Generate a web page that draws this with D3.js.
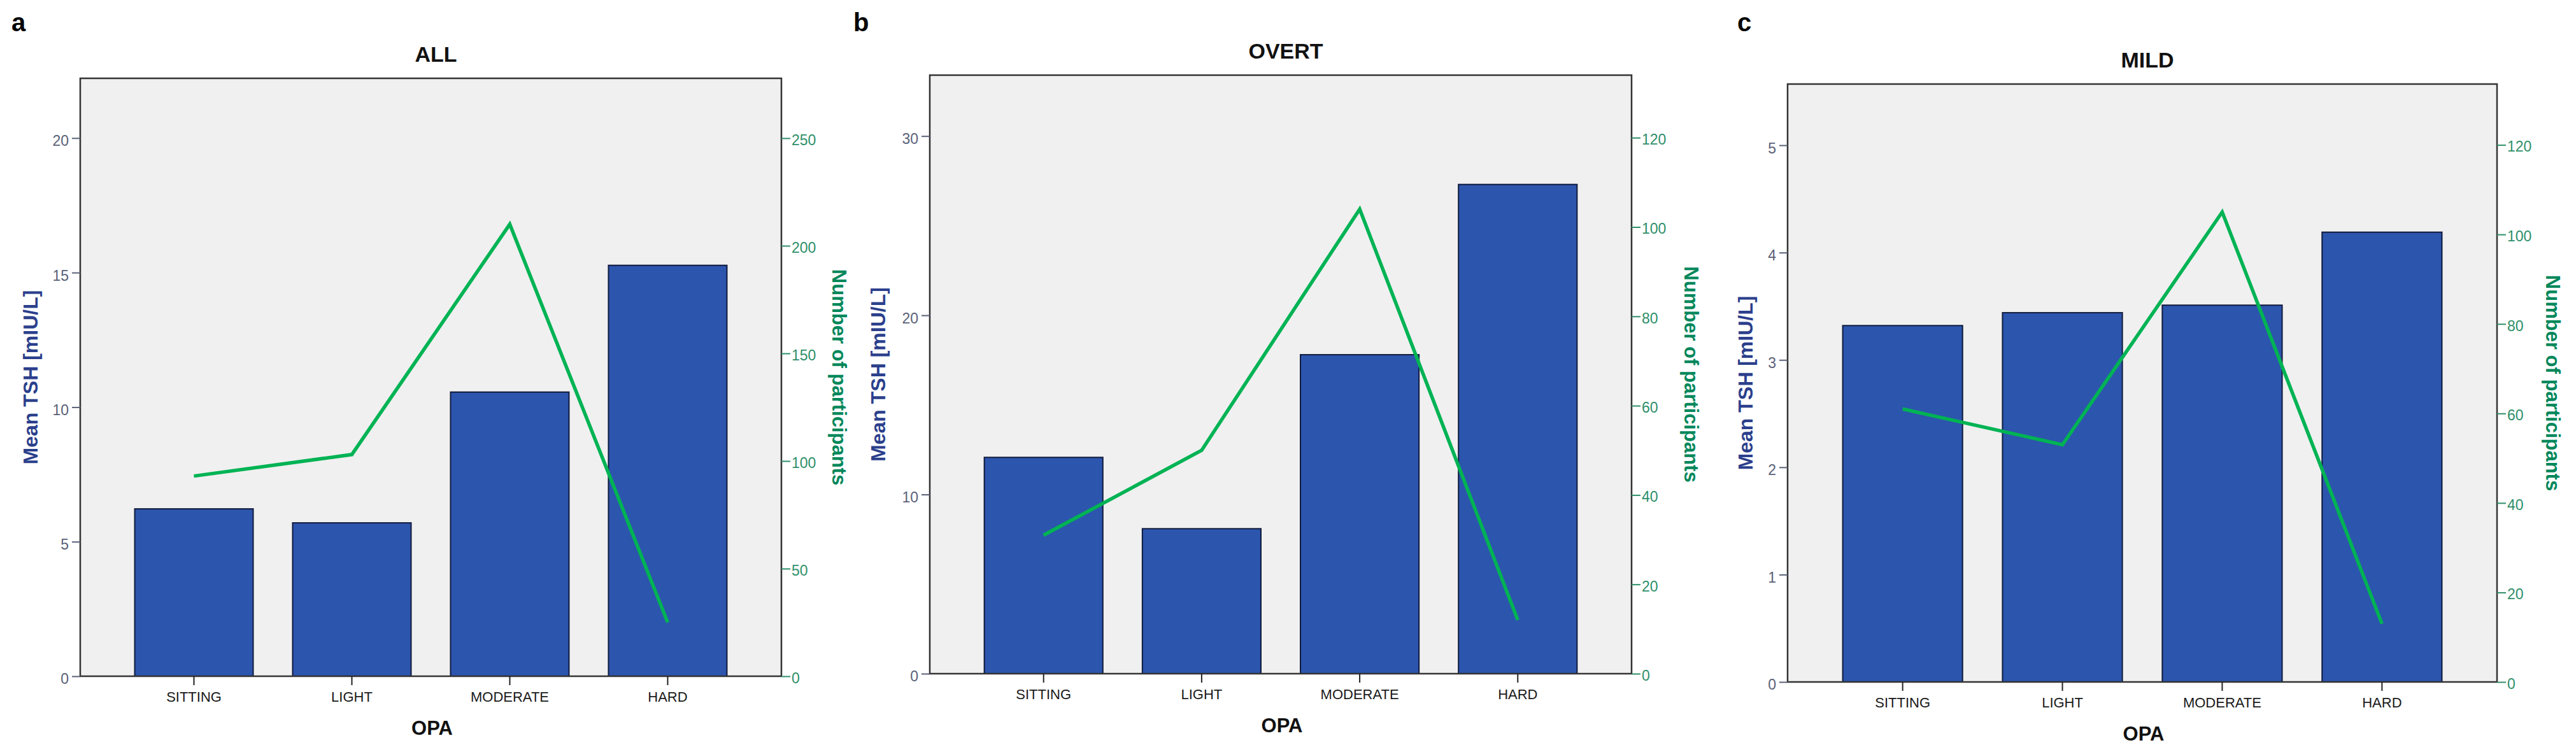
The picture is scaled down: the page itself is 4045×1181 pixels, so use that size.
<!DOCTYPE html>
<html>
<head>
<meta charset="utf-8">
<script src="https://cdn.jsdelivr.net/npm/d3@7"></script>
<style>
  body { margin: 0; background: #fff; }
  text { font-family: "Liberation Sans", Arial, sans-serif; }
</style>
</head>
<body>
<div id="chart"></div>
<script>
//////////////////////
//  main constants  //
//////////////////////
const WIDTH = 4045;
const HEIGHT = 1181;

//////////////
//  data    //
//////////////
const categories = ["SITTING", "LIGHT", "MODERATE", "HARD"];
const panelLetters = ["a", "b", "c"];
const panelTitles = ["ALL", "OVERT", "MILD"];

// mean TSH (bars, left axis)
const tshAll = [6.22, 5.70, 10.56, 15.27];
const tshOvert = [12.07, 8.09, 17.8, 27.3];
const tshMild = [3.32, 3.44, 3.51, 4.19];

// number of participants (line, right axis)
const nAll = [93, 103, 210, 25];
const nOvert = [31, 50, 104, 12];
const nMild = [61, 53, 105, 13];

// axis ticks and domain tops
const leftTicks = [[0, 5, 10, 15, 20], [0, 10, 20, 30], [0, 1, 2, 3, 4, 5]];
const rightTicks = [[0, 50, 100, 150, 200, 250], [0, 20, 40, 60, 80, 100, 120], [0, 20, 40, 60, 80, 100, 120]];
const leftMax = [22.22, 33.4, 5.57];
const rightMax = [277.8, 134, 133.6];

const tshSeries = [tshAll, tshOvert, tshMild];
const nSeries = [nAll, nOvert, nMild];

//////////////
//  layout  //
//////////////
const panels = [
  { x0: 126, x1: 1227, y0: 123, y1: 1062, leftTitle: -79, rightTitle: 91, letterX: 18 },
  { x0: 1460, x1: 2562, y0: 118, y1: 1058, leftTitle: -82, rightTitle: 94, letterX: 1340 },
  { x0: 2807, x1: 3921, y0: 132, y1: 1071, leftTitle: -67, rightTitle: 88, letterX: 2728 }
];

const COLORS = {
  plotBg: "#f0f0f0",
  frame: "#333333",
  bar: "#2c55ad",
  barStroke: "#101a3c",
  line: "#00b354",
  leftTick: "#5a6177",
  rightTick: "#2e8f6a",
  leftTitle: "#2b3f8c",
  rightTitle: "#00875a"
};

const intFormat = d3.format("d");

const svg = d3.select("#chart").append("svg")
  .attr("width", WIDTH)
  .attr("height", HEIGHT);

/////////////////
//  main code  //
/////////////////
panels.forEach((p, i) => {
  const g = svg.append("g");

  const x = d3.scaleBand()
    .domain(categories)
    .range([p.x0, p.x1])
    .paddingInner(0.25)
    .paddingOuter(0.345);

  const yL = d3.scaleLinear().domain([0, leftMax[i]]).range([p.y1, p.y0]);
  const yR = d3.scaleLinear().domain([0, rightMax[i]]).range([p.y1, p.y0]);

  const rows = categories.map((c, k) => ({ cat: c, tsh: tshSeries[i][k], n: nSeries[i][k] }));

  // plot background
  g.append("rect")
    .attr("x", p.x0).attr("y", p.y0)
    .attr("width", p.x1 - p.x0).attr("height", p.y1 - p.y0)
    .attr("fill", COLORS.plotBg);

  // bars
  g.selectAll(".bar").data(rows).join("rect")
    .attr("class", "bar")
    .attr("x", d => x(d.cat))
    .attr("y", d => yL(d.tsh))
    .attr("width", x.bandwidth())
    .attr("height", d => yL(0) - yL(d.tsh))
    .attr("fill", COLORS.bar)
    .attr("stroke", COLORS.barStroke)
    .attr("stroke-width", 2);

  // participants line
  const line = d3.line()
    .x(d => x(d.cat) + x.bandwidth() / 2)
    .y(d => yR(d.n));

  g.append("path")
    .datum(rows)
    .attr("d", line)
    .attr("fill", "none")
    .attr("stroke", COLORS.line)
    .attr("stroke-width", 5.5)
    .attr("stroke-linejoin", "miter");

  // frame
  g.append("rect")
    .attr("x", p.x0).attr("y", p.y0)
    .attr("width", p.x1 - p.x0).attr("height", p.y1 - p.y0)
    .attr("fill", "none")
    .attr("stroke", COLORS.frame)
    .attr("stroke-width", 2.5);

  // left axis
  const axL = g.append("g")
    .attr("transform", `translate(${p.x0},0)`)
    .call(d3.axisLeft(yL).tickValues(leftTicks[i]).tickFormat(intFormat).tickSize(13).tickPadding(5));
  axL.select(".domain").remove();
  axL.selectAll("line").attr("stroke", COLORS.leftTick).attr("stroke-width", 2);
  axL.selectAll("text")
    .attr("fill", COLORS.leftTick)
    .attr("font-size", 23)
    .attr("dy", "0.52em");

  // right axis
  const axR = g.append("g")
    .attr("transform", `translate(${p.x1},0)`)
    .call(d3.axisRight(yR).tickValues(rightTicks[i]).tickFormat(intFormat).tickSize(14).tickPadding(2));
  axR.select(".domain").remove();
  axR.selectAll("line").attr("stroke", COLORS.rightTick).attr("stroke-width", 2);
  axR.selectAll("text")
    .attr("fill", COLORS.rightTick)
    .attr("font-size", 23)
    .attr("dy", "0.45em");

  // bottom axis
  const axB = g.append("g")
    .attr("transform", `translate(0,${p.y1})`)
    .call(d3.axisBottom(x).tickSize(14).tickPadding(10));
  axB.select(".domain").remove();
  axB.selectAll("line").attr("stroke", "#222").attr("stroke-width", 2);
  axB.selectAll("text")
    .attr("fill", "#1a1a1a")
    .attr("font-size", 22);

  const cx = (p.x0 + p.x1) / 2;
  const cy = (p.y0 + p.y1) / 2;

  // panel letter
  g.append("text")
    .attr("x", p.letterX).attr("y", 49)
    .attr("font-size", 40)
    .attr("font-weight", "bold")
    .attr("fill", "#000")
    .text(panelLetters[i]);

  // title
  g.append("text")
    .attr("x", cx + 8).attr("y", p.y0 - 26)
    .attr("text-anchor", "middle")
    .attr("font-size", 34)
    .attr("font-weight", "bold")
    .attr("fill", "#111")
    .text(panelTitles[i]);

  // x axis title
  g.append("text")
    .attr("x", cx + 2).attr("y", p.y1 + 92)
    .attr("text-anchor", "middle")
    .attr("font-size", 31)
    .attr("font-weight", "bold")
    .attr("fill", "#111")
    .text("OPA");

  // left axis title
  g.append("text")
    .attr("transform", `translate(${p.x0 + p.leftTitle},${cy}) rotate(-90)`)
    .attr("text-anchor", "middle")
    .attr("dy", "0.36em")
    .attr("font-size", 32)
    .attr("font-weight", "bold")
    .attr("fill", COLORS.leftTitle)
    .text("Mean TSH [mIU/L]");

  // right axis title
  g.append("text")
    .attr("transform", `translate(${p.x1 + p.rightTitle},${cy}) rotate(90)`)
    .attr("text-anchor", "middle")
    .attr("dy", "0.36em")
    .attr("font-size", 31)
    .attr("font-weight", "bold")
    .attr("fill", COLORS.rightTitle)
    .text("Number of participants");
});
</script>
</body>
</html>
